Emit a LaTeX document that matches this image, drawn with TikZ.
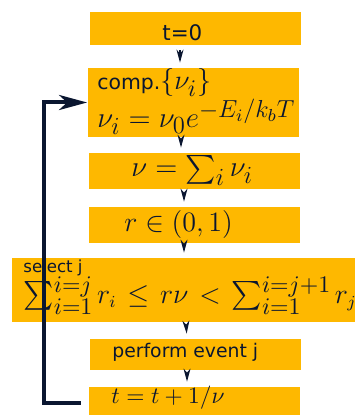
\documentclass[tikz,border=0pt]{standalone}
\usepackage{fix-cm}
\usepackage{amsmath}
\usepackage{fontspec}
\setmainfont{DejaVu Sans}
\usetikzlibrary{arrows.meta,calc}
\definecolor{kmcgold}{HTML}{FEB800}
\definecolor{kmcnavy}{HTML}{0A1630}
% larger scripts, as in the slide formulas
\DeclareMathSizes{14}{14}{11.9}{8.4}
\DeclareMathSizes{14.5}{14.5}{12.3}{8.7}
\DeclareMathSizes{11.7}{11.7}{9.9}{7}
\tikzset{
    box/.style={
        fill=kmcgold,
        inner sep=0pt,
        minimum width=105.5pt
    },
    txt/.style={
        anchor=base west,
        inner sep=0pt,
        text=kmcnavy
    },
    flow/.style={
        -{Stealth[length=6.5pt,width=3.5pt,inset=2pt]},
        kmcnavy,
        semithick,
        shorten <=2.5pt,
        shorten >=2.5pt
    },
    back/.style={
        -{Stealth[length=14pt,width=7.5pt,inset=4pt]},
        kmcnavy,
        line width=2pt
    }
}
\newcommand{\fs}[1]{\fontsize{#1}{1.2\dimexpr#1pt\relax}\selectfont}
% sum with its bounds stacked at the right
\newcommand{\bsum}[2]{\sum\!\vcenter{\offinterlineskip
    \hbox{$\scriptstyle #2$}\kern0.7pt\hbox{$\scriptstyle #1$}}\,}

\begin{document}
\begin{tikzpicture}[x=0.5pt, y=-0.5pt]
\useasboundingbox (0,0) rectangle (354,415);

% boxes
\node[box, minimum height=16.5pt] (t0) at (195,28.5) {};
\node[box, minimum height=34.5pt] (comp) at (193,102.5) {};
\node[box, minimum height=18pt] (nu) at (194.5,171) {};
\node[box, minimum height=18pt] (rnd) at (194.5,225) {};
\node[box, minimum width=174pt, minimum height=32pt] (sel) at (186,290) {};
\node[box, minimum height=15.5pt] (perf) at (195.5,354.5) {};
\node[box, minimum height=15.5pt] (tnew) at (194.5,402.5) {};

% texts
\node[txt, font=\fs{10.7}] (t0txt) at (162,41) {t=0};
\node[txt, font=\fs{10.2}] (comptxt) at (97,90) {comp.{\fs{14}$\{\nu_i\}$}};
\node[txt, font=\fs{14.5}] (ratetxt) at (97,128) {$\nu_i=\nu_0e^{-E_i/k_bT}$};
\node[txt, font=\fs{14.5}] (nutxt) at (131,177) {$\nu=\sum_i\nu_i$};
\node[txt, font=\fs{14}] (rndtxt) at (124,232) {$r\in(0,1)$};
\node[txt, font=\fs{8.3}] (seltxt) at (23,272) {select j};
\node[txt, font=\fs{14}] (sumtxt) at (23,303)
    {$\thickmuskip=7mu\bsum{i=1}{i=j}r_{\scriptscriptstyle i}\le r\nu
      <\bsum{i=1}{i=j+1}r_{\scriptscriptstyle j}$};
\node[txt, font=\fs{9.4}] (perftxt) at (112,357) {perform event j};
\node[txt, font=\fs{11.7}] (tnewtxt) at (111,403) {$t=t+1/\nu$};

% arrows
\draw[flow] ([xshift=-7.5pt]t0.south) -- ([xshift=-6.5pt]comp.north);
\draw[flow] ([xshift=-6pt]comp.south) -- ([xshift=-6.75pt]nu.north);
\draw[flow] ([xshift=-5.25pt]nu.south) -- ([xshift=-5.25pt]rnd.north);
\draw[flow] ([xshift=-5.25pt]rnd.south) -- ([xshift=-1pt]sel.north);
\draw[flow] ([xshift=0pt]sel.south) -- ([xshift=-4.25pt]perf.north);
\draw[flow] ([xshift=-4.25pt]perf.south) -- ([xshift=-3.75pt]tnew.north);
\draw[back, shorten <=4pt] (tnew.west) -- ++(-45,0) |- (comp.west);

\end{tikzpicture}
\end{document}
